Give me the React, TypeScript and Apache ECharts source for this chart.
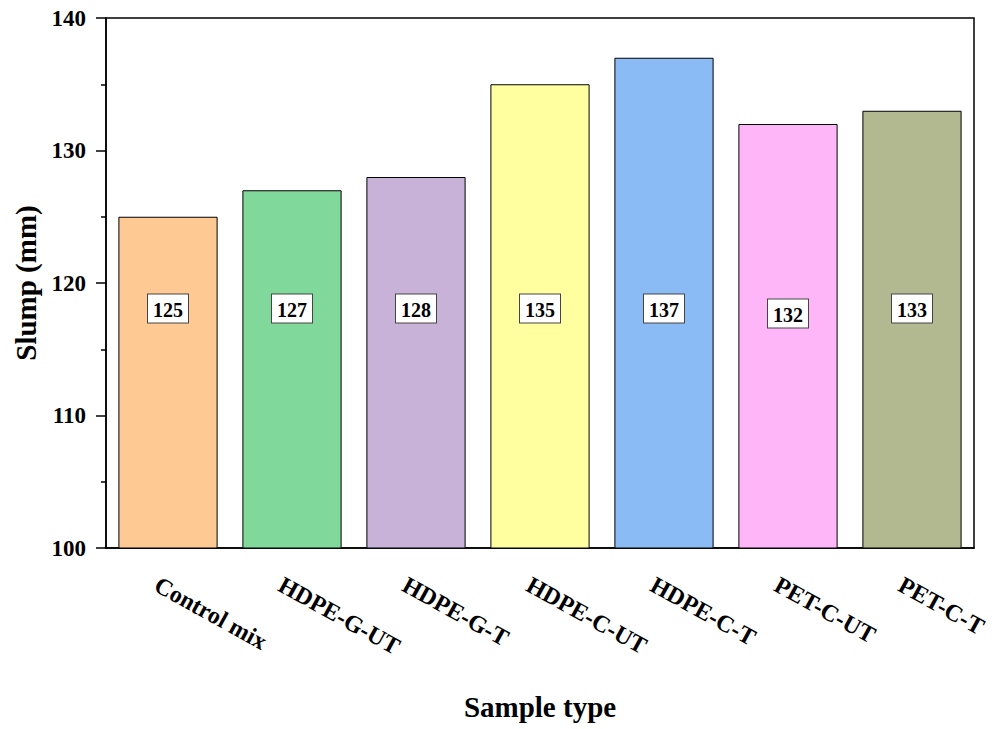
import { useEffect, useRef } from 'react';
import * as echarts from 'echarts';

const categories = ['Control mix', 'HDPE-G-UT', 'HDPE-G-T', 'HDPE-C-UT', 'HDPE-C-T', 'PET-C-UT', 'PET-C-T'];
const slump = [125, 127, 128, 135, 137, 132, 133];
const barColors = ['#FFC993', '#80D99A', '#C8B2D8', '#FFFF9F', '#8ABBF4', '#FFB6F9', '#B2B890'];
const yTicks = [100, 110, 120, 130, 140];

const FONT = 'Times New Roman';

export default function App() {
  const chartRef = useRef<HTMLDivElement>(null);

  useEffect(() => {
    if (!chartRef.current) return;
    const chart = echarts.init(chartRef.current, undefined, { renderer: 'svg' });

    chart.setOption({
      animation: false,
      backgroundColor: '#fff',
      grid: {
        left: 106,
        right: 24,
        top: 18,
        bottom: 181,
        show: true,
        borderColor: '#000',
        borderWidth: 1.5,
      },
      xAxis: {
        type: 'category',
        data: categories,
        name: 'Sample type',
        nameLocation: 'middle',
        nameGap: 144,
        nameTextStyle: { fontFamily: FONT, fontWeight: 'bold', fontSize: 29, color: '#000' },
        axisLine: { lineStyle: { color: '#000', width: 1.5 } },
        axisTick: { alignWithLabel: true, length: 10, lineStyle: { color: '#000', width: 1.5 } },
        axisLabel: {
          rotate: -29,
          margin: 14,
          align: 'left',
          verticalAlign: 'top',
          lineHeight: 48,
          fontFamily: FONT,
          fontWeight: 'bold',
          fontSize: 24,
          color: '#000',
        },
      },
      yAxis: {
        type: 'value',
        min: yTicks[0],
        max: yTicks[yTicks.length - 1],
        interval: 10,
        name: 'Slump (mm)',
        nameLocation: 'middle',
        nameGap: 66,
        nameTextStyle: { fontFamily: FONT, fontWeight: 'bold', fontSize: 29, color: '#000' },
        axisLine: { show: true, lineStyle: { color: '#000', width: 1.5 } },
        axisTick: { show: true, length: 10, lineStyle: { color: '#000', width: 1.5 } },
        minorTick: { show: true, splitNumber: 2, length: 5, lineStyle: { color: '#000', width: 1.5 } },
        splitLine: { show: false },
        axisLabel: { fontFamily: FONT, fontWeight: 'bold', fontSize: 23, color: '#000', margin: 20 },
      },
      series: [
        {
          type: 'bar',
          barCategoryGap: '20%',
          data: slump.map((v, i) => ({
            value: v,
            itemStyle: { color: barColors[i] },
            label: v === 132 ? { offset: [0, 5] } : undefined,
          })),
          itemStyle: { borderColor: '#000', borderWidth: 1 },
          label: {
            show: true,
            position: 'insideBottom',
            distance: 226,
            fontFamily: FONT,
            fontWeight: 'bold',
            fontSize: 20,
            color: '#000',
            backgroundColor: '#fff',
            borderColor: '#444',
            borderWidth: 1,
            padding: [5, 5, 3, 5],
          },
        },
      ],
    });

    return () => chart.dispose();
  }, []);

  return (
    <div
      ref={chartRef}
      style={{ position: 'absolute', left: 0, top: 0, width: 998, height: 729 }}
    />
  );
}
